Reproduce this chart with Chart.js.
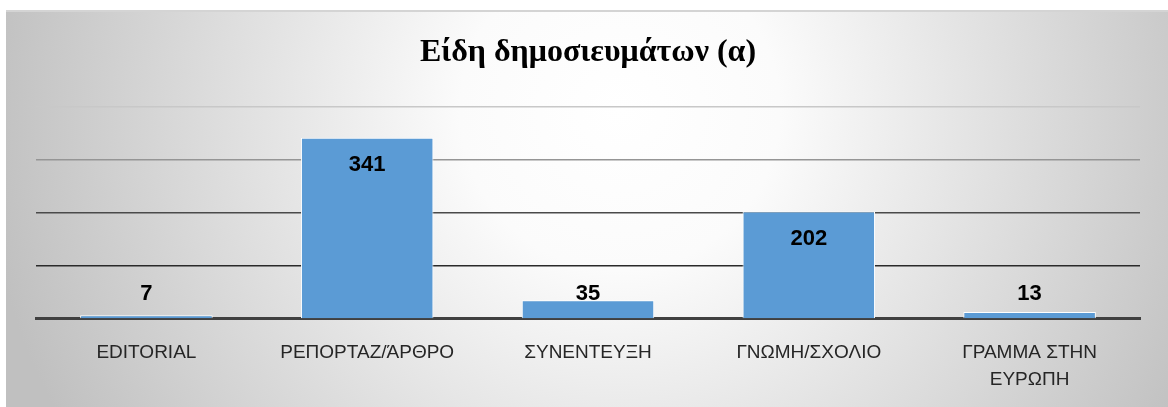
<!DOCTYPE html>
<html>
<head>
<meta charset="utf-8">
<script src="https://cdn.jsdelivr.net/npm/chart.js@4"></script>
<style>
  html, body { margin: 0; padding: 0; background: #fff; }
  #wrap { width: 1168px; height: 407px; }
</style>
</head>
<body>
<div id="wrap"><canvas id="kinds" width="1168" height="407"></canvas></div>
<script>
/* chart data */
const categories = ["EDITORIAL", "ΡΕΠΟΡΤΑΖ/ΆΡΘΡΟ", "ΣΥΝΕΝΤΕΥΞΗ", "ΓΝΩΜΗ/ΣΧΟΛΙΟ", ["ΓΡΑΜΜΑ ΣΤΗΝ", "ΕΥΡΩΠΗ"]];
const counts = [7, 341, 35, 202, 13];
const yTicks = [0, 100, 200, 300, 400];

/* gray panel behind the chart */
const panelBg = {
  id: "panelBg",
  beforeDraw(chart) {
    const c = chart.ctx;
    const w = chart.width, h = chart.height;
    c.save();
    c.fillStyle = "#fff";
    c.fillRect(0, 0, w, h);
    const g = c.createRadialGradient(620, 110, 0, 620, 110, 640);
    g.addColorStop(0, "#ffffff");
    g.addColorStop(0.25, "#fbfbfb");
    g.addColorStop(1, "#c0c0c0");
    c.fillStyle = g;
    c.fillRect(6, 10, w - 6, h - 10);
    c.fillStyle = "#d4d4d4";
    c.fillRect(6, 10, w - 6, 2);
    c.restore();
  }
};

/* value labels near the top of each bar */
const valueLabels = {
  id: "valueLabels",
  afterDatasetsDraw(chart) {
    const c = chart.ctx;
    const meta = chart.getDatasetMeta(0);
    c.save();
    c.font = "bold 22px 'Liberation Sans', Arial, sans-serif";
    c.fillStyle = "#000";
    c.textAlign = "center";
    c.textBaseline = "middle";
    meta.data.forEach((bar, i) => {
      const y = Math.min(bar.y + 27, bar.base - 24);
      c.fillText(String(counts[i]), bar.x, y);
    });
    c.restore();
  }
};

const gridColors = { 0: "rgba(0,0,0,0)", 100: "#2a2a2a", 200: "#4a4a4a", 300: "#959595", 400: "#c8c8c8" };

new Chart(document.getElementById("kinds"), {
  type: "bar",
  data: {
    labels: categories,
    datasets: [{
      data: counts,
      backgroundColor: "#5b9bd5",
      borderColor: "#ffffff",
      borderWidth: 1,
      barPercentage: 0.6,
      categoryPercentage: 1.0
    }]
  },
  options: {
    responsive: false,
    animation: false,
    layout: { padding: { left: 36, right: 28, top: 0, bottom: 1 } },
    plugins: {
      legend: { display: false },
      tooltip: { enabled: false },
      title: {
        display: true,
        text: "Είδη δημοσιευμάτων (α)",
        color: "#000",
        font: { family: "'Liberation Serif', 'Times New Roman', serif", size: 32, weight: "bold" },
        padding: { top: 34, bottom: 34 }
      }
    },
    scales: {
      x: {
        grid: { display: false },
        border: { display: true, color: "#404040", width: 3 },
        ticks: {
          color: "#262626",
          padding: 12,
          maxRotation: 0,
          autoSkip: false,
          font: { family: "'Liberation Sans', Arial, sans-serif", size: 19, lineHeight: 1.45 }
        }
      },
      y: {
        min: yTicks[0],
        max: yTicks[yTicks.length - 1],
        afterBuildTicks(axis) { axis.ticks = yTicks.map(v => ({ value: v })); },
        ticks: { display: false },
        border: { display: false },
        grid: {
          drawTicks: false,
          lineWidth: 1.5,
          color: ctx => gridColors[ctx.tick.value] || "#999"
        }
      }
    }
  },
  plugins: [panelBg, valueLabels]
});
</script>
</body>
</html>
